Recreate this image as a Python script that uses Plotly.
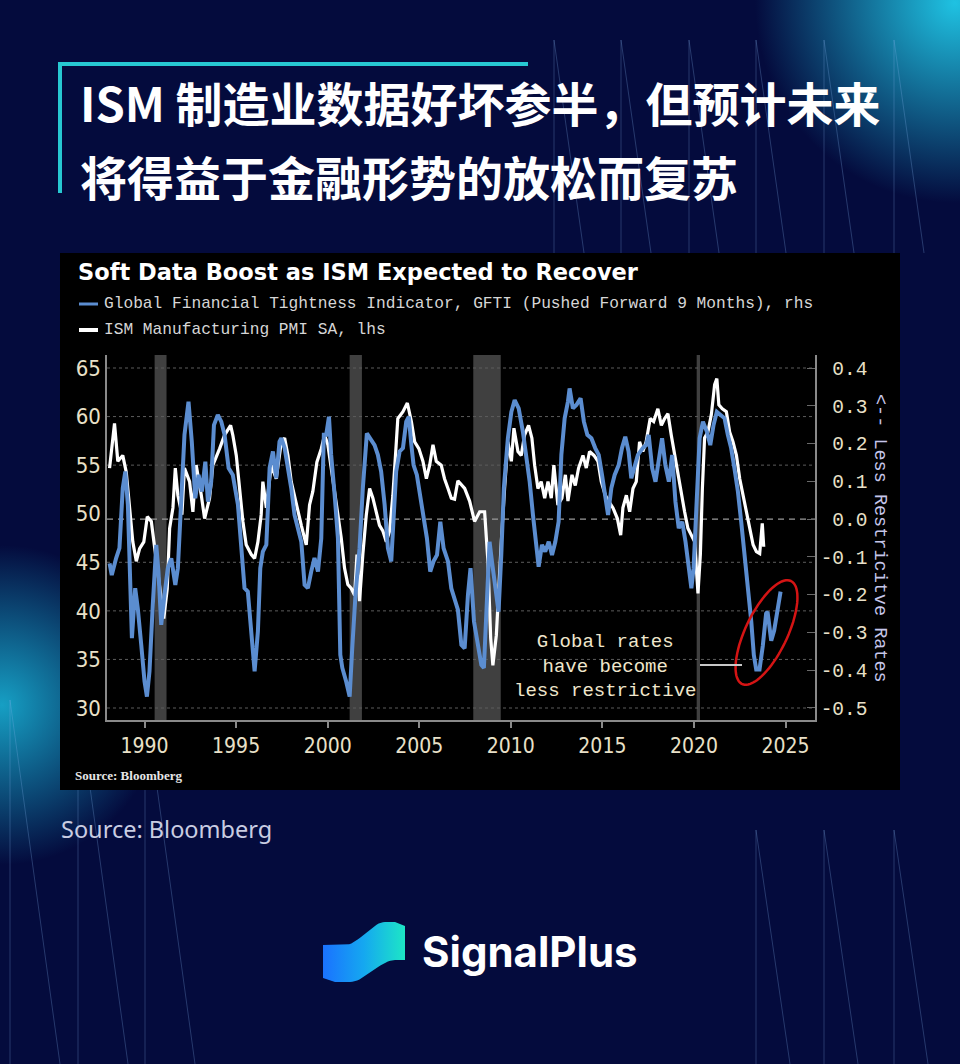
import numpy as np
import plotly.graph_objects as go

W, H = 960, 1064
BG = "#040b3d"

# ---------------- data ----------------
ism_years = [1988.09, 1988.36, 1988.54, 1988.81, 1989.00, 1989.18, 1989.36, 1989.55, 1989.73, 1989.96,
             1990.15, 1990.37, 1990.51, 1990.69, 1990.87, 1991.05, 1991.24, 1991.37, 1991.55, 1991.68,
             1991.82, 1992.04, 1992.18, 1992.46, 1992.64, 1992.82, 1993.10, 1993.28, 1993.55, 1993.73,
             1994.10, 1994.37, 1994.70, 1994.82, 1995.01, 1995.19, 1995.37, 1995.55, 1995.83, 1996.01,
             1996.19, 1996.37, 1996.46, 1996.65, 1996.92, 1997.19, 1997.47, 1997.65, 1997.83, 1998.01,
             1998.29, 1998.56, 1998.83, 1999.01, 1999.19, 1999.41, 1999.65, 1999.83, 2000.01, 2000.19,
             2000.38, 2000.56, 2000.74, 2000.92, 2001.10, 2001.29, 2001.47, 2001.60, 2001.74, 2001.92,
             2002.11, 2002.29, 2002.47, 2002.65, 2002.83, 2003.02, 2003.20, 2003.38, 2003.56, 2003.74,
             2003.83, 2004.11, 2004.35, 2004.57, 2004.75, 2004.98, 2005.20, 2005.39, 2005.57, 2005.75,
             2005.93, 2006.20, 2006.38, 2006.57, 2006.75, 2006.93, 2007.11, 2007.48, 2007.75, 2008.02,
             2008.30, 2008.57, 2008.75, 2008.90, 2009.02, 2009.21, 2009.33, 2009.48, 2009.66, 2009.84,
             2010.03, 2010.17, 2010.39, 2010.57, 2010.75, 2010.97, 2011.15, 2011.30, 2011.48, 2011.66,
             2011.85, 2012.03, 2012.21, 2012.35, 2012.57, 2012.79, 2012.98, 2013.12, 2013.34, 2013.52,
             2013.70, 2013.94, 2014.12, 2014.30, 2014.54, 2014.76, 2014.94, 2015.16, 2015.34, 2015.58,
             2015.82, 2016.00, 2016.12, 2016.31, 2016.49, 2016.67, 2016.85, 2017.03, 2017.21, 2017.39,
             2017.61, 2017.80, 2018.03, 2018.22, 2018.40, 2018.58, 2018.76, 2018.95, 2019.13, 2019.31,
             2019.49, 2019.67, 2019.86, 2020.04, 2020.22, 2020.35, 2020.46, 2020.58, 2020.76, 2020.95,
             2021.13, 2021.25, 2021.36, 2021.55, 2021.77, 2021.95, 2022.13, 2022.32, 2022.50, 2022.68,
             2022.86, 2023.04, 2023.23, 2023.41, 2023.59, 2023.73, 2023.81]
ism_values = [54.7, 59.3, 55.4, 56.0, 54.3, 50.9, 47.1, 45.1, 46.4, 47.1,
              49.7, 49.2, 47.1, 44.4, 41.6, 39.2, 42.3, 48.5, 50.6, 54.7,
              51.9, 49.9, 54.7, 53.3, 50.2, 55.0, 51.9, 49.5, 51.6, 55.0,
              56.7, 58.1, 59.1, 58.1, 56.0, 52.6, 49.2, 46.8, 45.8, 45.4,
              47.1, 49.9, 53.3, 50.6, 55.0, 53.6, 57.4, 57.8, 56.0, 53.3,
              50.9, 48.8, 46.8, 50.9, 52.3, 55.3, 56.7, 58.1, 57.1, 54.7,
              52.3, 50.2, 47.5, 44.4, 42.7, 42.3, 41.6, 45.8, 41.0, 45.8,
              49.9, 52.6, 51.6, 50.2, 48.8, 48.2, 47.1, 48.2, 51.9, 57.1,
              59.8, 60.5, 61.4, 59.5, 57.4, 56.7, 55.4, 53.6, 55.0, 57.1,
              55.4, 55.0, 53.6, 52.6, 51.6, 51.5, 53.4, 52.6, 51.3, 49.2,
              50.2, 50.2, 45.1, 37.2, 34.4, 37.5, 42.3, 47.1, 52.6, 57.4,
              55.4, 58.8, 56.4, 56.0, 58.1, 59.1, 57.8, 55.0, 52.6, 53.3,
              51.6, 53.3, 51.6, 55.0, 50.9, 51.6, 54.0, 51.3, 54.0, 52.9,
              54.7, 56.0, 54.7, 56.4, 56.0, 55.4, 53.3, 51.9, 51.3, 50.6,
              49.5, 47.8, 50.6, 51.9, 50.2, 52.6, 53.3, 57.4, 56.4, 57.4,
              59.8, 59.5, 60.8, 59.1, 59.8, 60.3, 58.1, 56.0, 54.3, 51.9,
              50.2, 48.5, 47.8, 47.1, 41.8, 45.8, 52.6, 57.8, 58.4, 60.2,
              63.3, 63.9, 61.2, 60.8, 60.5, 58.4, 57.4, 56.0, 53.6, 51.9,
              50.2, 48.2, 46.8, 46.1, 45.9, 49.0, 46.6]

gfti_years = [1988.09, 1988.21, 1988.45, 1988.63, 1988.81, 1988.95, 1989.09, 1989.18, 1989.31, 1989.49,
              1989.63, 1989.82, 1990.00, 1990.13, 1990.27, 1990.45, 1990.64, 1990.76, 1990.91, 1991.09,
              1991.27, 1991.46, 1991.68, 1991.82, 1992.04, 1992.18, 1992.40, 1992.58, 1992.77, 1992.95,
              1993.13, 1993.32, 1993.46, 1993.64, 1993.79, 1994.00, 1994.19, 1994.37, 1994.59, 1994.82,
              1995.10, 1995.28, 1995.46, 1995.64, 1995.83, 1996.01, 1996.19, 1996.32, 1996.46, 1996.65,
              1996.83, 1997.01, 1997.19, 1997.37, 1997.47, 1997.65, 1997.83, 1998.01, 1998.19, 1998.37,
              1998.56, 1998.74, 1998.92, 1999.10, 1999.28, 1999.47, 1999.65, 1999.79, 1999.92, 2000.07,
              2000.19, 2000.38, 2000.56, 2000.69, 2000.80, 2001.01, 2001.20, 2001.34, 2001.52, 2001.74,
              2001.92, 2002.14, 2002.33, 2002.56, 2002.74, 2002.92, 2003.11, 2003.29, 2003.47, 2003.61,
              2003.74, 2003.93, 2004.11, 2004.29, 2004.43, 2004.57, 2004.69, 2004.87, 2005.06, 2005.24,
              2005.42, 2005.60, 2005.78, 2005.97, 2006.15, 2006.33, 2006.57, 2006.75, 2006.93, 2007.11,
              2007.30, 2007.48, 2007.66, 2007.80, 2007.99, 2008.21, 2008.39, 2008.53, 2008.72, 2008.84,
              2008.97, 2009.15, 2009.33, 2009.48, 2009.62, 2009.84, 2010.03, 2010.21, 2010.43, 2010.66,
              2010.85, 2011.03, 2011.21, 2011.39, 2011.52, 2011.70, 2011.88, 2012.07, 2012.25, 2012.43,
              2012.61, 2012.76, 2012.94, 2013.12, 2013.21, 2013.39, 2013.58, 2013.81, 2013.99, 2014.18,
              2014.40, 2014.61, 2014.80, 2014.98, 2015.16, 2015.31, 2015.49, 2015.67, 2015.89, 2016.07,
              2016.25, 2016.43, 2016.58, 2016.76, 2016.94, 2017.21, 2017.39, 2017.53, 2017.72, 2017.90,
              2018.08, 2018.26, 2018.44, 2018.63, 2018.81, 2018.99, 2019.17, 2019.36, 2019.54, 2019.72,
              2019.86, 2019.98, 2020.13, 2020.31, 2020.49, 2020.71, 2020.89, 2021.07, 2021.25, 2021.44,
              2021.67, 2021.85, 2022.03, 2022.21, 2022.40, 2022.58, 2022.76, 2022.94, 2023.13, 2023.27,
              2023.40, 2023.58, 2023.76, 2023.94, 2024.02, 2024.22, 2024.38, 2024.73]
gfti_values = [-0.117, -0.148, -0.103, -0.077, 0.082, 0.126, 0.038, -0.139, -0.315, -0.183,
               -0.236, -0.333, -0.430, -0.470, -0.403, -0.227, -0.068, -0.139, -0.280, -0.200,
               -0.130, -0.104, -0.174, -0.130, 0.064, 0.223, 0.311, 0.205, 0.055, 0.117,
               0.073, 0.152, 0.046, 0.099, 0.249, 0.276, 0.258, 0.223, 0.135, 0.117,
               0.038, -0.077, -0.183, -0.192, -0.315, -0.403, -0.297, -0.130, -0.086, -0.068,
               0.135, 0.179, 0.108, 0.205, 0.214, 0.188, 0.135, 0.082, 0.011, -0.024,
               -0.060, -0.174, -0.183, -0.139, -0.103, -0.139, -0.051, 0.223, 0.223, 0.271,
               0.170, 0.064, -0.051, -0.359, -0.394, -0.430, -0.470, -0.342, -0.200, -0.077,
               0.082, 0.227, 0.214, 0.196, 0.170, 0.126, 0.038, -0.077, -0.112, -0.007,
               0.126, 0.179, 0.188, 0.258, 0.271, 0.196, 0.143, 0.117, 0.055, -0.007,
               -0.051, -0.139, -0.112, -0.095, -0.007, -0.077, -0.112, -0.183, -0.210, -0.240,
               -0.333, -0.342, -0.200, -0.130, -0.271, -0.342, -0.386, -0.394, -0.183, -0.060,
               -0.112, -0.183, -0.245, -0.095, 0.082, 0.214, 0.284, 0.315, 0.293, 0.231,
               0.161, 0.099, 0.011, -0.077, -0.126, -0.068, -0.086, -0.060, -0.095, -0.060,
               -0.007, 0.170, 0.267, 0.311, 0.346, 0.293, 0.302, 0.320, 0.258, 0.223,
               0.214, 0.188, 0.170, 0.117, 0.055, 0.011, 0.082, 0.117, 0.143, 0.188,
               0.218, 0.179, 0.108, 0.143, 0.170, 0.188, 0.196, 0.223, 0.135, 0.099,
               0.161, 0.214, 0.143, 0.099, 0.170, 0.046, -0.024, -0.007, -0.060, -0.130,
               -0.183, -0.130, 0.038, 0.214, 0.258, 0.231, 0.196, 0.249, 0.284, 0.276,
               0.267, 0.223, 0.188, 0.135, 0.073, -0.007, -0.086, -0.174, -0.271, -0.360,
               -0.398, -0.398, -0.335, -0.250, -0.245, -0.322, -0.295, -0.192]

recession_starts = [1990.55, 2001.20, 2007.95, 2020.15]
recession_ends = [1991.20, 2001.87, 2009.45, 2020.33]

year_ticks = [1990, 1995, 2000, 2005, 2010, 2015, 2020, 2025]
lhs_ticks = [30, 35, 40, 45, 50, 55, 60, 65]
rhs_ticks = [-0.5, -0.4, -0.3, -0.2, -0.1, 0.0, 0.1, 0.2, 0.3, 0.4]

X_RANGE = [1987.95, 2026.61]
LHS_RANGE = [28.765, 66.338]
RHS_RANGE = [-0.5318, 0.4344]

# plot area in page pixels
PL, PR, PT, PB = 107, 815, 355, 720

BLUE = "#5b8dd0"
CREAM = "#e9e0c8"
GRID = "#5c5c5c"
AXIS = "#8a8a8a"
MONO = "Liberation Mono, DejaVu Sans Mono, monospace"
NARROW = "Liberation Sans Narrow, DejaVu Sans Condensed, Liberation Sans, sans-serif"

fig = go.Figure()

# ---------------- decorative page layer (pixel axes x / y) ----------------
def deco(**kw):
    kw.setdefault("hoverinfo", "skip")
    kw.setdefault("showlegend", False)
    fig.add_trace(go.Scatter(xaxis="x", yaxis="y", **kw))

# glows (radial gradient: gradient.color is the centre colour)
deco(x=[955], y=[3], mode="markers", cliponaxis=False,
     marker=dict(size=400, color=BG, gradient=dict(type="radial", color="#1fc2e2"), line=dict(width=0)))
deco(x=[2], y=[705], mode="markers", cliponaxis=False,
     marker=dict(size=320, color=BG, gradient=dict(type="radial", color="#169fc4"), line=dict(width=0)))

# faint pattern lines
LINE_C = "rgba(130,175,235,0.28)"
for x0 in [554, 621, 689, 756, 824, 894]:
    deco(x=[x0, x0], y=[40, 253], mode="lines", line=dict(color=LINE_C, width=1))
    deco(x=[x0, x0 + 30], y=[40, 253], mode="lines", line=dict(color=LINE_C, width=1))
for x0 in [10, 78, 145]:
    deco(x=[x0, x0], y=[700, 1064], mode="lines", line=dict(color=LINE_C, width=1))
    deco(x=[x0, x0 + 50], y=[700, 1064], mode="lines", line=dict(color=LINE_C, width=1))
for x0 in [756, 824, 894]:
    deco(x=[x0, x0], y=[830, 1064], mode="lines", line=dict(color=LINE_C, width=1))
    deco(x=[x0, x0 + 34], y=[830, 1064], mode="lines", line=dict(color=LINE_C, width=1))

# black chart panel
deco(x=[60, 900, 900, 60, 60], y=[253, 253, 790, 790, 253], mode="lines",
     fill="toself", fillcolor="#000000", line=dict(width=0))

# SignalPlus logo icon
def smooth(t):
    return t * t * (3 - 2 * t)
tt = np.linspace(0, 1, 20)
top_x = list(345 + 40 * tt)
top_y = list(945 - 23 * smooth(tt))
bot_x = list(395 - 45 * tt)
bot_y = list(960 + 22 * smooth(tt))
icon_x = [323, 345] + top_x + [395, 405, 405] + bot_x + [335, 323, 323]
icon_y = [945, 945] + top_y + [922, 926, 960] + bot_y + [982, 978, 945]
deco(x=icon_x, y=icon_y, mode="lines", fill="toself", line=dict(width=0),
     fillgradient=dict(type="horizontal", colorscale=[[0, "#1a72ff"], [0.5, "#15a8f0"], [1, "#1de6c6"]]))

# ---------------- chart ----------------
fig.add_trace(go.Scatter(x=ism_years, y=ism_values, xaxis="x2", yaxis="y2", mode="lines",
                         line=dict(color="#ffffff", width=3.2), hoverinfo="skip", showlegend=False))
fig.add_trace(go.Scatter(x=gfti_years, y=gfti_values, xaxis="x2", yaxis="y3", mode="lines",
                         line=dict(color=BLUE, width=4), hoverinfo="skip", showlegend=False))

shapes = []
for s, e in zip(recession_starts, recession_ends):
    shapes.append(dict(type="rect", xref="x2", yref="y2", x0=s, x1=e, y0=LHS_RANGE[0], y1=LHS_RANGE[1],
                       fillcolor="rgba(85,85,85,0.75)", line=dict(width=0), layer="below"))
for v in lhs_ticks:
    if v == 50:
        continue
    shapes.append(dict(type="line", xref="x2", yref="y2", x0=X_RANGE[0], x1=X_RANGE[1], y0=v, y1=v,
                       line=dict(color=GRID, width=1, dash="dot"), layer="below"))
shapes.append(dict(type="line", xref="x2", yref="y3", x0=X_RANGE[0], x1=X_RANGE[1], y0=0, y1=0,
                   line=dict(color="#9a9a9a", width=1.4, dash="6px,5px"), layer="below"))

# red ellipse (pixel space)
cx, cy, a, b, th = 766.5, 632.5, 57, 21, np.deg2rad(64.6)
t = np.linspace(0, 2 * np.pi, 80)
ex = cx + a * np.cos(t) * np.cos(th) + b * np.sin(t) * np.sin(th)
ey = cy - a * np.cos(t) * np.sin(th) + b * np.sin(t) * np.cos(th)
path = "M " + " L ".join(f"{x:.1f},{y:.1f}" for x, y in zip(ex, ey)) + " Z"
shapes.append(dict(type="path", xref="x", yref="y", path=path, line=dict(color="#d41414", width=2.5),
                   layer="above"))
# leader line
shapes.append(dict(type="line", xref="x", yref="y", x0=700, x1=742, y0=665, y1=665,
                   line=dict(color="#c8c8c8", width=2), layer="above"))
# legend swatches
shapes.append(dict(type="line", xref="x", yref="y", x0=79, x1=98, y0=304, y1=304,
                   line=dict(color=BLUE, width=3), layer="above"))
shapes.append(dict(type="line", xref="x", yref="y", x0=79, x1=98, y0=330, y1=330,
                   line=dict(color="#ffffff", width=4), layer="above"))
# cyan title frame
shapes.append(dict(type="line", xref="x", yref="y", x0=58, x1=528, y0=64, y1=64,
                   line=dict(color="#27c8d2", width=4), layer="above"))
shapes.append(dict(type="line", xref="x", yref="y", x0=60, x1=60, y0=62, y1=193,
                   line=dict(color="#27c8d2", width=4), layer="above"))

anns = []
def txt(x, y, text, size, color, family, xanchor="left", **kw):
    anns.append(dict(x=x, y=y, xref="x", yref="y", text=text, showarrow=False, xanchor=xanchor,
                     yanchor="middle", font=dict(size=size, color=color, family=family), **kw))

CJK = "Noto Sans CJK SC, Noto Sans, sans-serif"
txt(78, 101, "<b>ISM 制造业数据好坏参半，但预计未来</b>", 47, "#ffffff", CJK)
txt(78, 175, "<b>将得益于金融形势的放松而复苏</b>", 47, "#ffffff", CJK)
txt(76, 272, "<b>Soft Data Boost as ISM Expected to Recover</b>", 22.5, "#ffffff", "DejaVu Sans, Verdana, sans-serif")
txt(102, 304, "Global Financial Tightness Indicator, GFTI (Pushed Forward 9 Months), rhs", 16.2, "#d6d6d6", MONO)
txt(102, 330, "ISM Manufacturing PMI SA, lhs", 16.2, "#d6d6d6", MONO)
txt(605, 666, "Global rates<br>have become<br>less restrictive", 19, "#efe6cc", MONO, xanchor="center",
    align="center")
txt(880, 538, "<-- Less Restricitve Rates", 18.5, "#c6c6ea", MONO, xanchor="center", textangle=90)
txt(73, 775, "<b>Source: Bloomberg</b>", 13, "#e6e6e6", "Liberation Serif, DejaVu Serif, serif")
txt(59, 829, "Source: Bloomberg", 23.5, "#c9cde2", "Noto Sans, Open Sans, sans-serif")
txt(420, 951, "<b>SignalPlus</b>", 42, "#ffffff", "Inter, Lato, Noto Sans, sans-serif")

rhs_text = [f"{v:.1f}".replace("-0.0", "0.0").rjust(4, "\u00a0") for v in rhs_ticks]

fig.update_layout(
    width=W, height=H, autosize=False,
    margin=dict(l=0, r=0, t=0, b=0, pad=0),
    paper_bgcolor=BG, plot_bgcolor="rgba(0,0,0,0)",
    hovermode=False, showlegend=False,
    shapes=shapes, annotations=anns,
    xaxis=dict(domain=[0, 1], range=[0, W], visible=False, fixedrange=True, anchor="y"),
    yaxis=dict(domain=[0, 1], range=[H, 0], visible=False, fixedrange=True, anchor="x"),
    xaxis2=dict(domain=[PL / W, PR / W], range=X_RANGE, anchor="y2", tickmode="array", tickvals=year_ticks,
                ticks="outside", ticklen=6, tickcolor=AXIS, tickwidth=1.5, showline=True, linecolor=AXIS,
                linewidth=1.5, showgrid=False, zeroline=False,
                tickfont=dict(size=21, color=CREAM, family=NARROW)),
    yaxis2=dict(domain=[1 - PB / H, 1 - PT / H], range=LHS_RANGE, anchor="x2", tickmode="array",
                tickvals=lhs_ticks, showline=True, linecolor=AXIS, linewidth=1.5, showgrid=False,
                zeroline=False, ticks="", tickfont=dict(size=22, color=CREAM, family=NARROW)),
    yaxis3=dict(overlaying="y2", anchor="x2", side="right", range=RHS_RANGE, tickmode="array",
                tickvals=rhs_ticks, ticktext=rhs_text, ticks="inside", ticklen=8, tickcolor="#6a6a6a",
                showline=True, linecolor=AXIS, linewidth=1.5, showgrid=False, zeroline=False,
                tickfont=dict(size=19.5, color=CREAM, family=MONO)),
)

fig.write_html("out.html", config={"displayModeBar": False},
               post_script="document.body.style.margin='0';document.body.style.overflow='hidden';")
